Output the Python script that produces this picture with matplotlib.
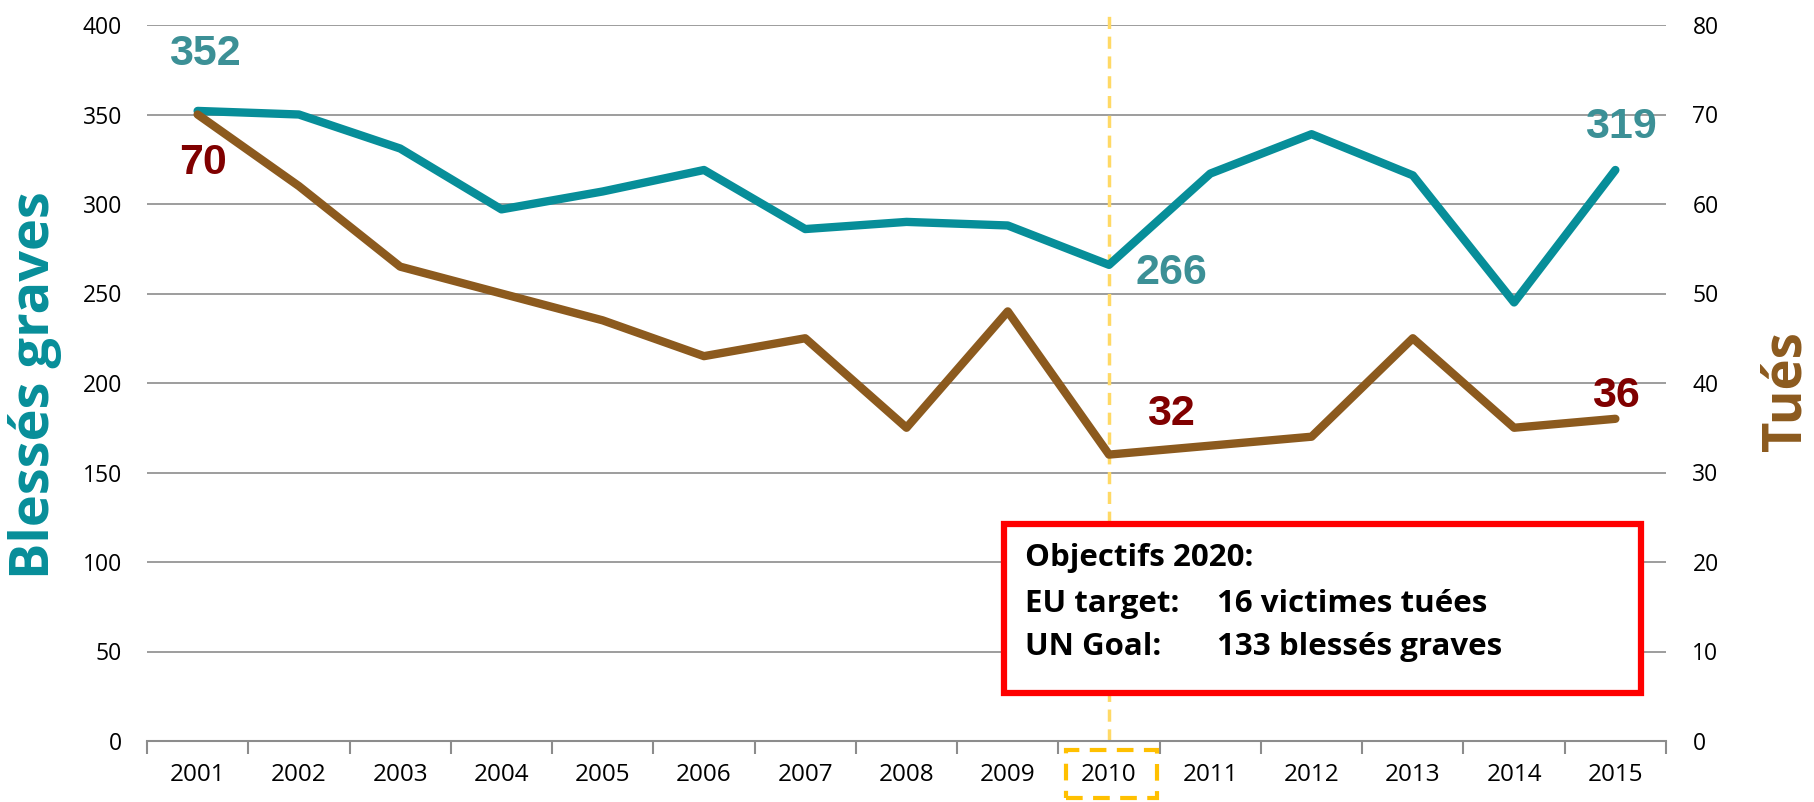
import numpy as np
import matplotlib.pyplot as plt
from matplotlib.patches import Rectangle

years = list(range(2001, 2016))
blesses = [352, 350, 331, 297, 307, 319, 286, 290, 288, 266, 317, 339, 316, 245, 319]
tues = [70, 62, 53, 50, 47, 43, 45, 35, 48, 32, 33, 34, 45, 35, 36]

# labelled points: (year, value, offset in pixels)
labels_blesses = [(2001, 352, (7, 57)), (2010, 266, (62, -8)), (2015, 319, (6, 43))]
labels_tues = [(2001, 70, (5, -49)), (2010, 32, (62, 41)), (2015, 36, (1, 23))]

box_lines = ["Objectifs 2020:", "EU target:", "UN Goal:"]
box_values = ["", "16 victimes tuées", "133 blessés graves"]

TEAL = '#078E99'
TEAL_LBL = '#3C9096'
BROWN = '#8C5A1E'
DARKRED = '#800000'
GRID = '#8C8C8C'

W, H = 1814, 802
fig = plt.figure(figsize=(W / 100, H / 100), dpi=100)
ax = fig.add_axes([147 / W, 1 - 741 / H, (1666 - 147) / W, (741 - 25) / H])
ax2 = ax.twinx()

font = 'Open Sans'

# left axis
ax.plot(years, blesses, color=TEAL, lw=6, solid_joinstyle='round', solid_capstyle='round', zorder=3)
ax.set_ylim(0, 400)
ax.set_xlim(2000.5, 2015.5)
ax.set_yticks(np.arange(0, 401, 50))
ax.set_xticks(years)
ax.set_xticks(np.arange(2000.5, 2016, 1), minor=True)
ax.grid(axis='y', color=GRID, lw=1.2)
ax.set_axisbelow(True)
for s in ['left', 'right', 'top']:
    ax.spines[s].set_visible(False)
ax.spines['bottom'].set_color(GRID)
ax.spines['bottom'].set_linewidth(1.5)
ax.tick_params(axis='y', length=0, pad=18, labelsize=16.5)
ax.tick_params(axis='x', which='major', length=0, pad=16, labelsize=17.5)
ax.tick_params(axis='x', which='minor', length=9, width=1.5, color=GRID)
for t in ax.get_xticklabels() + ax.get_yticklabels():
    t.set_fontfamily(font)

# right axis
ax2.plot(years, tues, color=BROWN, lw=6, solid_joinstyle='round', solid_capstyle='round', zorder=3)
ax2.set_ylim(0, 80)
ax2.set_yticks(np.arange(0, 81, 10))
for s in ['left', 'right', 'top', 'bottom']:
    ax2.spines[s].set_visible(False)
ax2.tick_params(axis='y', length=0, pad=19, labelsize=16.5)
for t in ax2.get_yticklabels():
    t.set_fontfamily(font)

# data labels
for x, v, off in labels_blesses:
    ax.annotate(str(v), (x, v), xytext=off, textcoords='offset pixels', ha='center', va='center',
                color=TEAL_LBL, fontsize=31, fontweight='bold', family='Liberation Sans')
for x, v, off in labels_tues:
    ax2.annotate(str(v), (x, v), xytext=off, textcoords='offset pixels', ha='center', va='center',
                 color=DARKRED, fontsize=31, fontweight='bold', family='Liberation Sans')

# 2010 marker line and dashed frame around the tick label
ax.axvline(2010, ymin=0, ymax=1.022, color='#FFD966', lw=2.5, ls=(0, (3.5, 2.2)), clip_on=False, zorder=1)
fig.patches.append(Rectangle((1066 / W, 1 - 798 / H), (1157 - 1066) / W, (798 - 750) / H,
                             transform=fig.transFigure, fill=False, ec='#FFC000', lw=3,
                             ls=(0, (4, 2.5))))

# objectives box
fig.patches.append(Rectangle((1004 / W, 1 - 693 / H), (1641 - 1004) / W, (693 - 524) / H,
                             transform=fig.transFigure, fc='white', ec='#FF0000', lw=4.5, zorder=5))
line_y = [558, 604, 647]
for txt, val, yy in zip(box_lines, box_values, line_y):
    fig.text(1025 / W, 1 - yy / H, txt, ha='left', va='center', fontsize=22.5,
             fontweight='bold', family=font, zorder=6)
    if val:
        fig.text(1217 / W, 1 - yy / H, val, ha='left', va='center', fontsize=22.5,
                 fontweight='bold', family=font, zorder=6)

# axis titles
fig.text(35 / W, 1 - 385 / H, 'Blessés graves', rotation=90, ha='center', va='center',
         fontsize=39, fontweight='bold', color=TEAL, family=font)
fig.text(1787 / W, 1 - 391 / H, 'Tués', rotation=90, ha='center', va='center',
         fontsize=38, fontweight='bold', color=BROWN, family=font)

fig.savefig('out.png', dpi=100)
